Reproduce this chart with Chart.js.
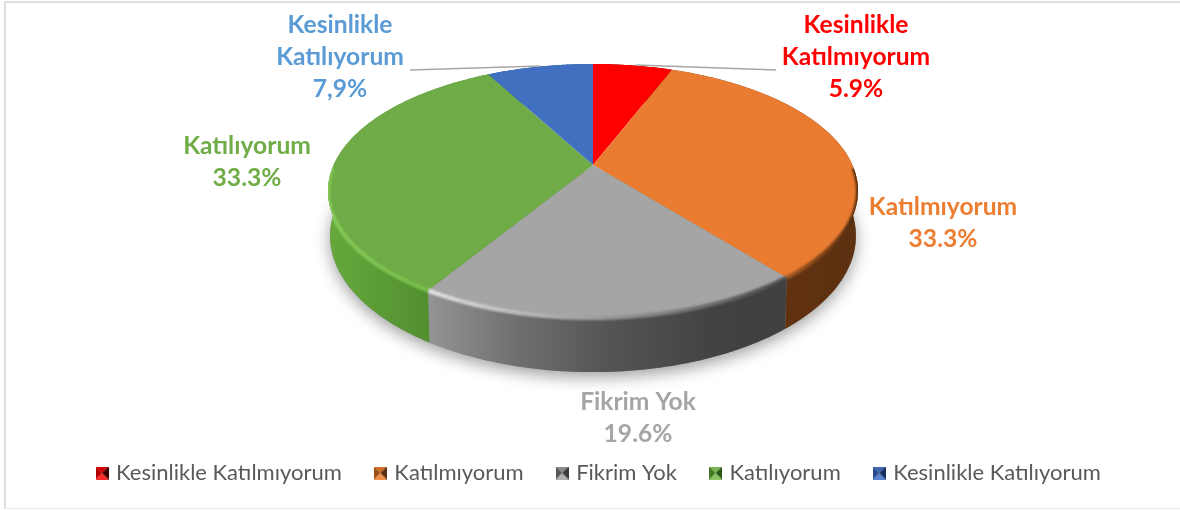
<!DOCTYPE html>
<html><head><meta charset="utf-8">
<script src="https://cdn.jsdelivr.net/npm/chart.js@4"></script>
<style>html,body{margin:0;padding:0;background:#fff}#w{width:1180px;height:510px}</style></head>
<body><div id="w"><canvas id="c" width="1180" height="510"></canvas></div>
<script>
const categories = ['Kesinlikle Katılmıyorum','Katılmıyorum','Fikrim Yok','Katılıyorum','Kesinlikle Katılıyorum'];
const values = [5.9,33.3,19.6,33.3,7.9];
const valueTexts = ['5.9%','33.3%','19.6%','33.3%','7,9%'];
const labelLines = [['Kesinlikle','Katılmıyorum'],['Katılmıyorum'],['Fikrim Yok'],['Katılıyorum'],['Kesinlikle','Katılıyorum']];
const faceColors = ['#ff0000','#e97c30','#a5a5a5','#6fab46','#4270c0'];
const labelColors = ['#ff0000','#ed7d31','#a5a5a5','#70ad47','#5b9bd5'];
const labelAnchors = [[856,25.5],[943,207.5],[638,402.5],[247,146.5],[340,25.5]];
const LINE_H = 31.7;
const leaders = [[[636,65],[776,70]],null,null,null,[[410,70],[540,66]]];
const sideStops = [
  [[0,'#7a0000'],[1,'#7a0000']],
  [[0,'#65350f'],[1,'#5d3011']],
  [[0,'#949494'],[0.25,'#6f6f6f'],[0.5,'#555'],[0.8,'#424242'],[1,'#404040']],
  [[0,'#66a83d'],[0.64,'#518f2e'],[1,'#518f2e']],
  [[0,'#2f5597'],[1,'#2f5597']]
];
const rimColors = [['#ff0000','#ff0000'],['#a85a24','#4e280e'],['#e6e6e6','#484848'],['#86cc58','#78bf4c'],['#4270c0','#4270c0']];
const markerTones = [
 ['#d80000','#ff2a2a','#b00000','#3a0000'],
 ['#cf6c28','#f0914d','#9c5016','#5a2e10'],
 ['#8a8a8a','#b0b0b0','#555','#3a3a3a'],
 ['#7ab354','#8cc466','#3f7a22','#2c5a18'],
 ['#3d66b0','#5a84cf','#274a8a','#162f5e']
];
// projection of the unit disc to the tilted top face
const P = {ax:593, ay:165, A:259.4, B:121.7, k:0.2047, h:43, sh:0.992};
function topPt(a){const u=Math.cos(a),v=Math.sin(a),w=1-P.k*v;return [P.ax+P.A*u/w,P.ay+P.B*v/w];}
function botPt(a){const p=topPt(a),w=1-P.k*Math.sin(a);return [P.ax+(p[0]-P.ax)*P.sh,p[1]+P.h/w];}
function rimPts(f,a0,a1){const n=Math.max(2,Math.ceil(Math.abs(a1-a0)/0.01)),r=[];for(let i=0;i<=n;i++)r.push(f(a0+(a1-a0)*i/n));return r;}
function trace(ctx,pts,close){pts.forEach((p,i)=>i?ctx.lineTo(p[0],p[1]):ctx.moveTo(p[0],p[1]));if(close)ctx.closePath();}
function trace2(ctx,pts){pts.forEach(p=>ctx.lineTo(p[0],p[1]));}
function marker(i){
  const s=13,c=document.createElement('canvas');c.width=s;c.height=s;const g=c.getContext('2d');const t=markerTones[i],m=s/2;
  const tri=(col,pts)=>{g.fillStyle=col;g.beginPath();trace(g,pts,true);g.fill();};
  tri(t[0],[[0,0],[s,0],[m,m]]);tri(t[1],[[0,s],[s,s],[m,m]]);tri(t[2],[[0,0],[0,s],[m,m]]);tri(t[3],[[s,0],[s,s],[m,m]]);
  return c;
}
const markers = categories.map((_,i)=>marker(i));
const pie3d = {
  id:'pie3d',
  beforeDraw(chart){
    const ctx=chart.ctx;ctx.save();ctx.fillStyle='#fff';ctx.fillRect(0,0,1180,510);
    ctx.fillStyle='#dedede';ctx.fillRect(4,1,1176,2);ctx.fillRect(4,1,2,508);ctx.fillStyle='#e8e8e8';ctx.fillRect(4,508,1176,1);ctx.restore();
  },
  beforeDatasetsDraw(chart){
    const ctx=chart.ctx,arcs=chart.getDatasetMeta(0).data;
    ctx.save();
    // ground shadow
    const whole=rimPts(botPt,-0.3,Math.PI+0.3);
    ctx.save();ctx.shadowColor='rgba(0,0,0,0.38)';ctx.shadowBlur=16;ctx.shadowOffsetY=5;ctx.fillStyle='#888';ctx.beginPath();trace(ctx,whole,true);ctx.fill();ctx.restore();
    // sides
    arcs.forEach((el,i)=>{
      const a0=el.startAngle,a1=el.endAngle;
      const t=rimPts(topPt,a0,a1),b=rimPts(botPt,a1,a0);
      let x0=1e9,x1=-1e9;t.forEach(p=>{x0=Math.min(x0,p[0]);x1=Math.max(x1,p[0]);});
      const g=ctx.createLinearGradient(x0,0,x1,0);sideStops[i].forEach(s=>g.addColorStop(s[0],s[1]));
      ctx.fillStyle=g;ctx.beginPath();trace(ctx,t.concat(b),true);ctx.fill();
    });
    // faces
    arcs.forEach((el,i)=>{
      const a0=el.startAngle,a1=el.endAngle,r=rimPts(topPt,a0,a1);
      ctx.beginPath();ctx.moveTo(P.ax,P.ay);trace2(ctx,r);ctx.closePath();
      ctx.fillStyle=faceColors[i];ctx.fill();
    });
    // soft bevel along the front half of the rim, kept inside the disc's silhouette
    ctx.save();
    ctx.beginPath();trace(ctx,rimPts(topPt,0,Math.PI*2),true);
    trace(ctx,rimPts(topPt,-0.3,Math.PI+0.3).concat(rimPts(botPt,Math.PI+0.3,-0.3)),true);
    ctx.clip();
    arcs.forEach((el,i)=>{
      const r=rimPts(topPt,el.startAngle,el.endAngle).filter((p,j,all)=>{
        const a=el.startAngle+(el.endAngle-el.startAngle)*j/(all.length-1);return Math.sin(a)>0.02;});
      if(r.length<2)return;
      let x0=1e9,x1=-1e9;r.forEach(p=>{x0=Math.min(x0,p[0]);x1=Math.max(x1,p[0]);});
      const g=ctx.createLinearGradient(x0,0,x1,0);g.addColorStop(0,rimColors[i][0]);g.addColorStop(1,rimColors[i][1]);
      ctx.save();ctx.filter='blur(1.3px)';ctx.strokeStyle=g;ctx.lineWidth=4;ctx.beginPath();trace(ctx,r,false);ctx.stroke();ctx.restore();
    });
    ctx.restore();
    // leader lines
    ctx.strokeStyle='#a6a6a6';ctx.lineWidth=1.4;
    leaders.forEach(l=>{if(l){ctx.beginPath();trace(ctx,l,false);ctx.stroke();}});
    // labels
    ctx.textAlign='center';ctx.textBaseline='middle';ctx.font='bold 24.6px Lato';
    categories.forEach((_,i)=>{
      const lines=labelLines[i].concat([valueTexts[i]]);
      ctx.fillStyle=labelColors[i];
      lines.forEach((s,j)=>ctx.fillText(s,labelAnchors[i][0],labelAnchors[i][1]+j*LINE_H));
    });
    ctx.restore();
    return false;
  }
};
new Chart(document.getElementById('c'),{
  type:'pie',
  data:{labels:categories,datasets:[{data:values,backgroundColor:faceColors,borderWidth:0}]},
  options:{
    responsive:false,animation:false,
    layout:{padding:{left:20,right:0,top:0,bottom:16}},
    plugins:{
      tooltip:{enabled:false},
      legend:{position:'bottom',
        labels:{usePointStyle:true,pointStyleWidth:6,padding:35.5,color:'#595959',font:{family:'Lato',size:22},
          generateLabels(ch){return categories.map((t,i)=>({text:t,pointStyle:markers[i],fontColor:'#595959',fillStyle:faceColors[i],strokeStyle:faceColors[i],lineWidth:0,hidden:false,index:i}));}
        }}
    }
  },
  plugins:[pie3d]
});
</script></body></html>
